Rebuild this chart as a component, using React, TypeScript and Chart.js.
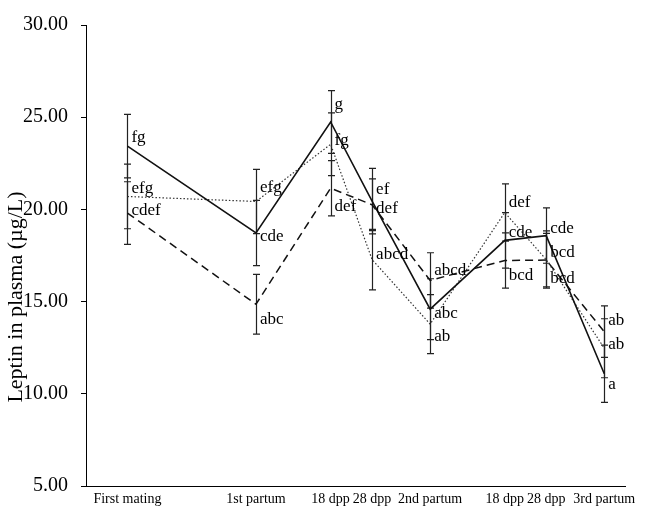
import React, { useEffect, useRef } from "react";
import { Chart, registerables } from "chart.js";

Chart.register(...registerables);

// ---- data ----
const xLabels = ["First mating", "1st partum", "18 dpp", "28 dpp", "2nd partum", "18 dpp", "28 dpp", "3rd partum"];
const xDays = [0, 31, 49, 59, 73, 91, 101, 115];

const solidMean = [23.43, 18.72, 24.74, 20.45, 14.59, 18.32, 18.58, 11.09];
const solidErr = [1.72, 1.77, 1.7, 1.78, 1.65, 1.5, 1.5, 1.55];
const solidLetters = ["fg", "cde", "g", "ef", "abc", "cde", "cde", "a"];

const dottedMean = [20.7, 20.43, 23.53, 17.28, 13.78, 19.83, 17.28, 12.47];
const dottedErr = [1.75, 1.74, 1.7, 1.64, 1.6, 1.55, 1.55, 1.6];
const dottedLetters = ["efg", "efg", "fg", "abcd", "ab", "def", "bcd", "ab"];

const dashedMean = [19.8, 14.86, 21.15, 20.25, 16.15, 17.23, 17.25, 13.37];
const dashedErr = [1.7, 1.62, 1.5, 1.4, 1.5, 1.5, 1.45, 1.4];
const dashedLetters = ["cdef", "abc", "def", "def", "abcd", "bcd", "bcd", "ab"];

const yTitle = "Leptin in plasma (\u00b5g/L)";

// ---- style: vertical nudges (px) for letter labels ----
const solidNudge = [-9, 4, -17, -12, 4, -8, -7, 11];
const dottedNudge = [-8, -14, -4, -5, 12, -10, -7, -4];
const dashedNudge = [-3, 15, 18, 4, -10, 15, 18, -11];

const FONT = '"Liberation Serif", "Times New Roman", serif';

const SERIES = [
  { mean: solidMean, err: solidErr, letters: solidLetters, nudge: solidNudge, dash: [] as number[], width: 1.6, color: "#111" },
  { mean: dottedMean, err: dottedErr, letters: dottedLetters, nudge: dottedNudge, dash: [1.5, 2], width: 1.2, color: "#333" },
  { mean: dashedMean, err: dashedErr, letters: dashedLetters, nudge: dashedNudge, dash: [8, 5], width: 1.5, color: "#111" },
];

const overlay = {
  id: "overlay",
  beforeDatasetsDraw(chart: any) {
    const { ctx } = chart;
    const xs = chart.scales.x;
    const ys = chart.scales.y;
    ctx.save();
    ctx.strokeStyle = "#222";
    ctx.lineWidth = 1.2;
    SERIES.forEach((s) =>
      s.mean.forEach((m, j) => {
        const px = Math.round(xs.getPixelForValue(xDays[j])) + 0.5;
        const t = ys.getPixelForValue(m + s.err[j]);
        const b = ys.getPixelForValue(m - s.err[j]);
        ctx.beginPath();
        ctx.moveTo(px, t);
        ctx.lineTo(px, b);
        ctx.moveTo(px - 3.5, t);
        ctx.lineTo(px + 3.5, t);
        ctx.moveTo(px - 3.5, b);
        ctx.lineTo(px + 3.5, b);
        ctx.stroke();
      })
    );
    ctx.restore();
  },
  afterDatasetsDraw(chart: any) {
    const { ctx } = chart;
    const xs = chart.scales.x;
    const ys = chart.scales.y;
    ctx.save();
    ctx.fillStyle = "#000";
    ctx.font = `17px ${FONT}`;
    ctx.textAlign = "left";
    ctx.textBaseline = "middle";
    SERIES.forEach((s) =>
      s.mean.forEach((m, j) => {
        const px = xs.getPixelForValue(xDays[j]);
        const py = ys.getPixelForValue(m);
        ctx.fillText(s.letters[j], px + 4, py + s.nudge[j]);
      })
    );
    ctx.restore();
  },
  afterDraw(chart: any) {
    const { ctx } = chart;
    ctx.save();
    ctx.translate(16, 297);
    ctx.rotate(-Math.PI / 2);
    ctx.fillStyle = "#000";
    ctx.font = `22px ${FONT}`;
    ctx.textAlign = "center";
    ctx.textBaseline = "middle";
    ctx.fillText(yTitle, 0, 0);
    ctx.restore();
  },
};

export default function App() {
  const ref = useRef<HTMLCanvasElement | null>(null);
  useEffect(() => {
    if (!ref.current) return;
    const chart = new Chart(ref.current, {
      type: "line",
      data: {
        datasets: SERIES.map((s, i) => ({
          label: "s" + i,
          data: xDays.map((x, j) => ({ x, y: s.mean[j] })),
          borderColor: s.color,
          borderWidth: s.width,
          borderDash: s.dash,
          pointRadius: 0,
          tension: 0,
          fill: false,
        })),
      },
      options: {
        animation: false,
        responsive: false,
        maintainAspectRatio: false,
        layout: { padding: { top: 24, right: 23, left: 0, bottom: 0 } },
        plugins: { legend: { display: false }, tooltip: { enabled: false } },
        scales: {
          x: {
            type: "linear",
            min: -10,
            max: 120,
            grid: { display: false, drawTicks: false },
            border: { display: true, color: "#000", width: 1 },
            afterBuildTicks: (s: any) => {
              s.ticks = xDays.map((v) => ({ value: v }));
            },
            afterFit: (s: any) => {
              s.height = 23;
            },
            ticks: {
              autoSkip: false,
              maxRotation: 0,
              minRotation: 0,
              padding: 5,
              color: "#000",
              font: { family: FONT, size: 14 },
              callback: (_v: any, i: number) => xLabels[i],
            },
          },
          y: {
            min: 5,
            max: 30,
            grid: { display: true, drawOnChartArea: false, drawTicks: true, tickLength: 5, color: "#000" },
            border: { display: true, color: "#000", width: 1 },
            afterFit: (s: any) => {
              s.width = 86;
            },
            ticks: {
              stepSize: 5,
              padding: 13,
              color: "#000",
              font: { family: FONT, size: 20 },
              callback: (v: any) => Number(v).toFixed(2),
            },
          },
        },
      },
      plugins: [overlay],
    } as any);
    return () => chart.destroy();
  }, []);
  return (
    <div style={{ position: "fixed", left: 0, top: 0, width: 648, height: 511, background: "#fff" }}>
      <canvas ref={ref} width={648} height={511} style={{ width: 648, height: 511, display: "block" }} />
    </div>
  );
}
